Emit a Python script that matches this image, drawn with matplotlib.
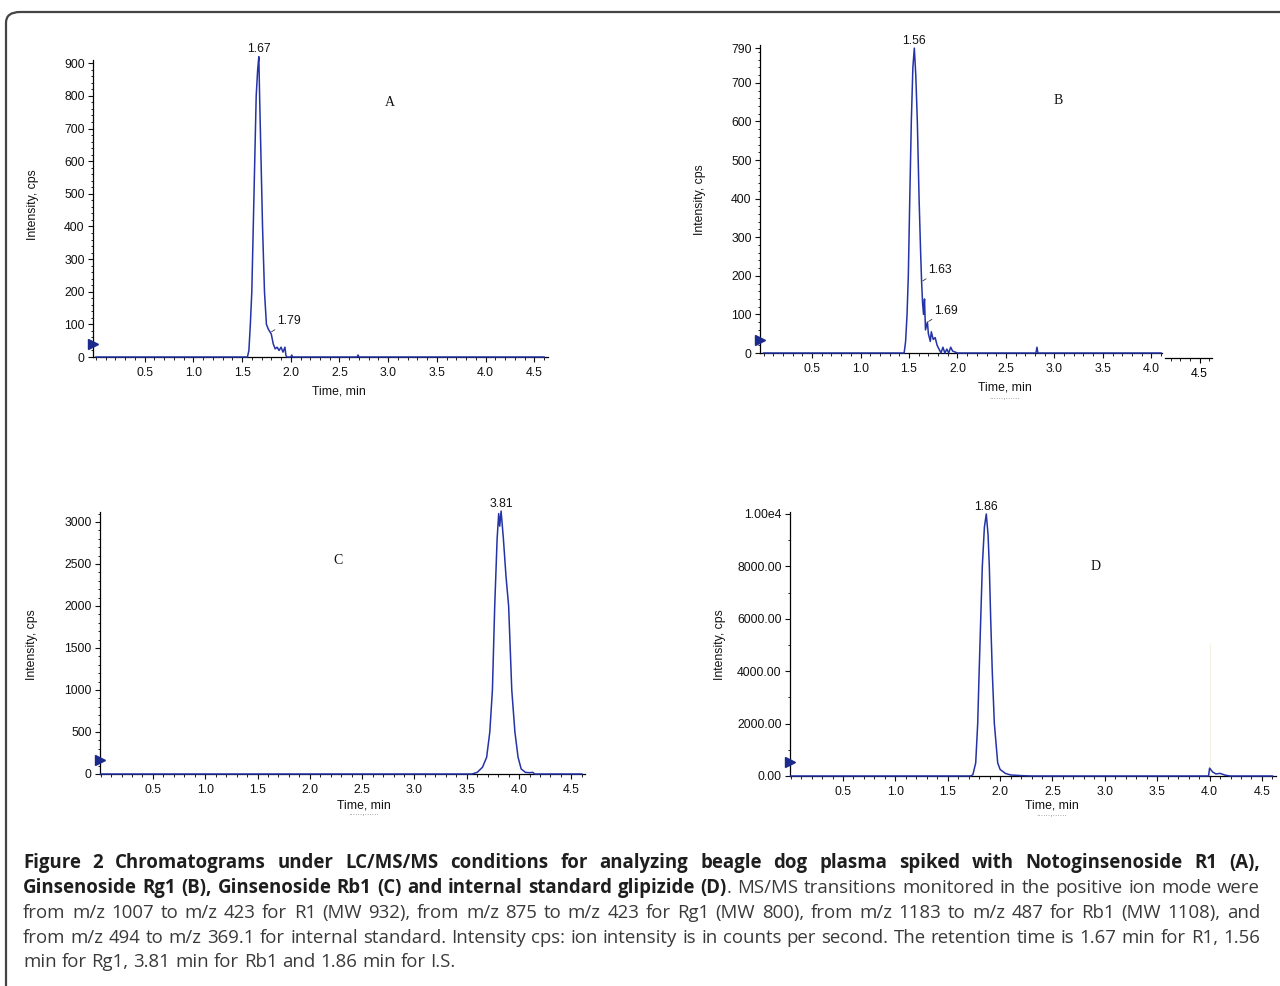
import matplotlib
matplotlib.use("Agg")
import matplotlib.pyplot as plt
from matplotlib.patches import FancyBboxPatch
from matplotlib.ticker import FixedLocator, FixedFormatter, MultipleLocator

# ---- data (time in min, intensity in cps) ----
time_a = [0.0, 1.50, 1.555, 1.57, 1.585, 1.60, 1.615, 1.63, 1.645, 1.66, 1.672, 1.68,
          1.695, 1.71, 1.73, 1.75, 1.77, 1.79, 1.80, 1.82, 1.84, 1.86, 1.88, 1.90,
          1.92, 1.94, 1.95, 1.96, 2.00, 2.01, 2.02, 2.68, 2.69, 2.70, 4.60]
int_a = [0, 0, 0, 20, 100, 200, 400, 600, 800, 880, 920, 800,
         600, 400, 200, 100, 85, 75, 70, 40, 25, 30, 20, 30,
         15, 30, 5, 0, 0, 6, 0, 0, 6, 0, 0]

time_b = [0.0, 1.42, 1.45, 1.465, 1.48, 1.493, 1.508, 1.524, 1.54, 1.555, 1.57, 1.586,
          1.604, 1.62, 1.63, 1.64, 1.65, 1.66, 1.67, 1.69, 1.70, 1.72, 1.73, 1.75,
          1.77, 1.79, 1.81, 1.83, 1.85, 1.87, 1.89, 1.91, 1.93, 1.95, 2.00, 2.81,
          2.82, 2.83, 4.10]
int_b = [0, 0, 0, 30, 100, 200, 400, 600, 740, 790, 720, 600,
         400, 260, 185, 130, 100, 140, 60, 80, 50, 30, 55, 35,
         40, 20, 10, 0, 15, 0, 10, 0, 15, 5, 0, 0,
         15, 0, 0]

time_c = [0.0, 3.55, 3.60, 3.65, 3.69, 3.72, 3.745, 3.767, 3.79, 3.805, 3.815, 3.828,
          3.85, 3.875, 3.90, 3.93, 3.96, 3.99, 4.02, 4.06, 4.10, 4.13, 4.15, 4.60]
int_c = [0, 0, 20, 80, 200, 500, 1000, 2000, 2800, 3100, 2950, 3130,
         2800, 2350, 2000, 1000, 500, 200, 60, 20, 15, 20, 0, 0]

time_d = [0.0, 1.72, 1.74, 1.767, 1.786, 1.80, 1.815, 1.83, 1.85, 1.868, 1.885, 1.897,
          1.91, 1.925, 1.945, 1.977, 2.00, 2.05, 2.10, 2.20, 2.30, 3.99, 4.00, 4.03,
          4.06, 4.10, 4.13, 4.15, 4.20, 4.60]
int_d = [0, 0, 50, 500, 2000, 4000, 6000, 8000, 9500, 10000, 9200, 8000,
         6000, 4000, 2000, 500, 250, 100, 40, 15, 0, 0, 300, 150,
         80, 100, 60, 30, 0, 0]

x_ticks = [0.5, 1.0, 1.5, 2.0, 2.5, 3.0, 3.5, 4.0, 4.5]
y_ticks_a = [0, 100, 200, 300, 400, 500, 600, 700, 800, 900]
y_ticks_b = [0, 100, 200, 300, 400, 500, 600, 700, 790]
y_ticks_c = [0, 500, 1000, 1500, 2000, 2500, 3000]
y_ticks_d = [0, 2000, 4000, 6000, 8000, 10000]
y_labels_d = ["0.00", "2000.00", "4000.00", "6000.00", "8000.00", "1.00e4"]

panel_letters = ["A", "B", "C", "D"]
letter_pos = [(3.02, 780), (3.04, 655), (2.27, 2536), (2.91, 8015)]
start_marks = [40, 34, 167, 530]          # blue triangle level on each y axis
peak_top = [(1.672, 920, "1.67"), (1.555, 790, "1.56"), (3.828, 3130, "3.81"), (1.868, 10000, "1.86")]
peak_side = [[(1.79, 75, "1.79")], [(1.63, 185, "1.63"), (1.69, 80, "1.69")], [], []]

W, H = 1280, 986
fig = plt.figure(figsize=(W / 100, H / 100), dpi=100)
plt.rcParams['font.family'] = ['Liberation Sans', 'DejaVu Sans']

line_col = '#2433a6'
tick_size = 8.8


def px_axes(left, top, right, bottom):
    return fig.add_axes([left / W, 1 - bottom / H, (right - left) / W, (bottom - top) / H])


def ftext(x, y, s, **kw):
    return fig.text(x / W, 1 - y / H, s, **kw)


def style(ax, xt, yt, ylab=None, ylim=None, xlim=None, yminor=None):
    for sp in ['top', 'right']:
        ax.spines[sp].set_visible(False)
    for sp in ['left', 'bottom']:
        ax.spines[sp].set_linewidth(0.9)
    ax.set_xlim(*xlim)
    ax.set_ylim(*ylim)
    ax.xaxis.set_major_locator(FixedLocator(xt))
    ax.xaxis.set_major_formatter(FixedFormatter(["%.1f" % v for v in xt]))
    ax.xaxis.set_minor_locator(MultipleLocator(0.1))
    ax.yaxis.set_major_locator(FixedLocator(yt))
    if ylab is None:
        ylab = ["%d" % v for v in yt]
    ax.yaxis.set_major_formatter(FixedFormatter(ylab))
    if yminor:
        ax.yaxis.set_minor_locator(MultipleLocator(yminor))
    ax.tick_params(axis='both', which='major', direction='out', length=3.5, width=0.8,
                   labelsize=tick_size, colors='#111111', pad=2.5)
    ax.tick_params(axis='both', which='minor', direction='out', length=1.8, width=0.6)
    ax.tick_params(axis='x', which='major', pad=4)
    ax.patch.set_alpha(0)


def draw_panel(ax, t, y, i):
    ax.plot(t, y, color=line_col, lw=1.1, clip_on=False, zorder=3)
    ax.plot([ax.get_xlim()[0]], [start_marks[i]], marker='>', color='#1c2a8c',
            markersize=6.5, clip_on=False, zorder=4)
    ax.text(letter_pos[i][0], letter_pos[i][1], panel_letters[i], family='Liberation Serif',
            fontsize=10, ha='center', va='center', color='#111111')
    px, py, s = peak_top[i]
    ax.annotate(s, (px, py), xytext=(0, 1.0), textcoords='offset points',
                ha='center', va='bottom', fontsize=tick_size, color='#111111',
                annotation_clip=False)
    for sx, sy, s in peak_side[i]:
        ax.annotate(s, (sx, sy), xytext=(5, 4), textcoords='offset points',
                    ha='left', va='bottom', fontsize=tick_size, color='#111111',
                    arrowprops=dict(arrowstyle='-', lw=0.6, color='#333333',
                                    shrinkA=0, shrinkB=1))


# ---- panel A ----
ax_a = px_axes(93, 60, 548, 357)
style(ax_a, x_ticks, y_ticks_a, xlim=(-0.03, 4.64), ylim=(0, 910), yminor=20)
draw_panel(ax_a, time_a, int_a, 0)

# ---- panel B ----
ax_b = px_axes(760, 45, 1162, 353)
style(ax_b, x_ticks[:-1], y_ticks_b, xlim=(-0.037, 4.11), ylim=(0, 798), yminor=20)
draw_panel(ax_b, time_b, int_b, 1)
# detached piece of the time axis on the right of B
ax_bx = px_axes(1165, 340, 1212, 358)
ax_bx.set_xlim(4.14, 4.63)
ax_bx.set_ylim(0, 1)
for sp in ['top', 'right', 'left']:
    ax_bx.spines[sp].set_visible(False)
ax_bx.spines['bottom'].set_linewidth(0.9)
ax_bx.set_yticks([])
ax_bx.xaxis.set_major_locator(FixedLocator([4.5]))
ax_bx.xaxis.set_major_formatter(FixedFormatter(["4.5"]))
ax_bx.xaxis.set_minor_locator(MultipleLocator(0.1))
ax_bx.tick_params(axis='x', which='major', length=3.5, width=0.8, labelsize=tick_size, pad=4)
ax_bx.tick_params(axis='x', which='minor', length=1.8, width=0.6)
ax_bx.patch.set_alpha(0)

# ---- panel C ----
ax_c = px_axes(100, 512, 585, 774)
style(ax_c, x_ticks, y_ticks_c, xlim=(-0.006, 4.63), ylim=(0, 3119), yminor=100)
draw_panel(ax_c, time_c, int_c, 2)

# ---- panel D ----
ax_d = px_axes(790, 512, 1276, 776)
style(ax_d, x_ticks, y_ticks_d, ylab=y_labels_d, xlim=(-0.006, 4.634), ylim=(0, 10076),
      yminor=1000)
ax_d.axvline(4.0, ymin=0, ymax=0.5, color='#f4f0e2', lw=0.8, zorder=1)
draw_panel(ax_d, time_d, int_d, 3)

# axis titles
lab_kw = dict(fontsize=8.8, color='#111111', ha='center', va='center')
ftext(33, 205, "Intensity, cps", rotation=90, **lab_kw)
ftext(700, 200, "Intensity, cps", rotation=90, **lab_kw)
ftext(32, 645, "Intensity, cps", rotation=90, **lab_kw)
ftext(720, 645, "Intensity, cps", rotation=90, **lab_kw)
ftext(339, 392, "Time, min", **lab_kw)
ftext(1005, 388, "Time, min", **lab_kw)
ftext(364, 805, "Time, min", **lab_kw)
ftext(1052, 806, "Time, min", **lab_kw)
for xx, yy in [(1005, 398), (364, 814), (1052, 815)]:
    ftext(xx, yy, "......,......", fontsize=6, color='#888888', ha='center', va='center')

# rounded frame around the figure
frame = FancyBboxPatch((6 / W, -0.02), 1.2, 1 - 12 / H + 0.02,
                       boxstyle="round,pad=0,rounding_size=0.011",
                       transform=fig.transFigure, fill=False, lw=1.6,
                       edgecolor='#444444', clip_on=False)
fig.patches.append(frame)

# ---- caption, justified ----
caption_lines = [
    [("Figure 2 Chromatograms under LC/MS/MS conditions for analyzing beagle dog plasma "
      "spiked with Notoginsenoside R1 (A),", True)],
    [("Ginsenoside Rg1 (B), Ginsenoside Rb1 (C) and internal standard glipizide (D)", True),
     (". MS/MS transitions monitored in the positive ion mode were", False)],
    [("from m/z 1007 to m/z 423 for R1 (MW 932), from m/z 875 to m/z 423 for Rg1 (MW 800), "
      "from m/z 1183 to m/z 487 for Rb1 (MW 1108), and", False)],
    [("from m/z 494 to m/z 369.1 for internal standard. Intensity cps: ion intensity is in "
      "counts per second. The retention time is 1.67 min for R1, 1.56", False)],
    [("min for Rg1, 3.81 min for Rb1 and 1.86 min for I.S.", False)],
]
cap_y = [863, 888, 913, 938, 962]
cap_left, cap_right = 23, 1260
renderer = fig.canvas.get_renderer()


def cap_kw(bold, size):
    return dict(family=['Open Sans', 'DejaVu Sans'], fontsize=size,
                weight='bold' if bold else 'normal',
                color='#1e1e1e' if bold else '#3a3a3a', va='center', ha='left')


def measure(s, bold, size):
    t = fig.text(0, 0, s, **cap_kw(bold, size))
    w = t.get_window_extent(renderer).width
    t.remove()
    return w


def split_words(segments):
    words = []
    for seg, bold in segments:
        parts = seg.split(" ")
        for k, p in enumerate(parts):
            if p == "":
                continue
            if k == 0 and words and not seg.startswith(" "):
                words[-1].append((p, bold))
            else:
                words.append([(p, bold)])
    return words


# pick a size so the widest justified line just fits with ordinary word spacing
base = 12.0
sp0 = measure("x x", False, base) - measure("xx", False, base)
natural = []
for segs in caption_lines[:-1]:
    words = split_words(segs)
    natural.append(sum(measure(p, b, base) for w in words for p, b in w)
                   + sp0 * (len(words) - 1))
cap_size = min(13.6, base * (cap_right - cap_left) / max(natural) * 0.99)

space_w = measure("x x", False, cap_size) - measure("xx", False, cap_size)
for li, segs in enumerate(caption_lines):
    words = split_words(segs)
    widths = [sum(measure(p, b, cap_size) for p, b in w) for w in words]
    if li < len(caption_lines) - 1:
        gap = (cap_right - cap_left - sum(widths)) / (len(words) - 1)
    else:
        gap = space_w
    x = cap_left
    for w, ww in zip(words, widths):
        xx = x
        for p, b in w:
            ftext(xx, cap_y[li], p, **cap_kw(b, cap_size))
            xx += measure(p, b, cap_size)
        x += ww + gap

fig.savefig("out.png", dpi=100)
